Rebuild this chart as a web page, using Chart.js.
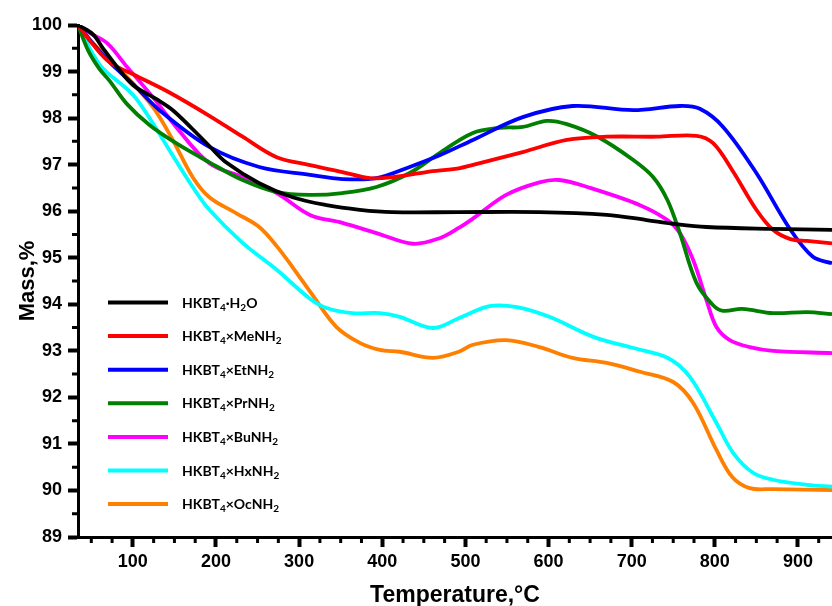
<!DOCTYPE html>
<html><head><meta charset="utf-8">
<script src="https://cdn.jsdelivr.net/npm/chart.js@4"></script>
<style>html,body{margin:0;padding:0;background:#fff;overflow:hidden}#wrap{width:832px;height:606px}</style>
</head><body><div id="wrap"><canvas id="c" width="832" height="606"></canvas></div>
<script>
// ---- data ----
const seriesLabels = ['HKBT\u2084\u00B7H\u2082O','HKBT\u2084\u00D7MeNH\u2082','HKBT\u2084\u00D7EtNH\u2082','HKBT\u2084\u00D7PrNH\u2082','HKBT\u2084\u00D7BuNH\u2082','HKBT\u2084\u00D7HxNH\u2082','HKBT\u2084\u00D7OcNH\u2082'];
const seriesColors = ['#000000','#ff0000','#0000ff','#007f00','#ff00ff','#00ffff','#ff8000'];

const tempH2O = [34,52,64,81,100,129,148,172,192,212,252,292,333,373,412,492,589,670,718,750,790,870,941];
const massH2O = [100,99.8,99.5,99.1,98.71,98.4,98.17,97.76,97.4,97.05,96.6,96.3,96.13,96.03,95.98,95.98,95.98,95.92,95.81,95.73,95.66,95.62,95.6];

const tempMe = [34,51,72,105,144,192,232,273,313,352,385,412,453,492,508,569,622,670,730,778,798,821,850,870,891,911,941];
const massMe = [100,99.6,99.2,98.9,98.55,98.05,97.6,97.16,96.99,96.84,96.71,96.73,96.84,96.92,96.99,97.27,97.53,97.6,97.6,97.62,97.46,96.88,96.03,95.6,95.4,95.36,95.31];

const tempEt = [34,52,72,101,132,192,252,313,352,393,433,469,509,569,629,702,758,782,810,850,891,918,941];
const massEt = [100,99.6,99.2,98.72,98.17,97.38,96.95,96.78,96.69,96.71,96.95,97.2,97.53,98.02,98.26,98.17,98.26,98.2,97.81,96.82,95.6,95.02,94.88];

const tempPr = [34,46,60,72,93,120,152,192,232,273,313,352,393,433,469,509,541,569,598,622,659,702,726,743,758,778,798,810,833,870,911,941];
const massPr = [100,99.46,99.05,98.8,98.3,97.85,97.46,97.05,96.67,96.41,96.35,96.39,96.52,96.82,97.25,97.68,97.79,97.81,97.94,97.87,97.6,97.1,96.73,96.24,95.53,94.46,93.98,93.86,93.9,93.81,93.83,93.79];

const tempBu = [34,48,69,93,124,152,192,232,273,313,352,393,437,469,492,509,549,589,613,650,710,743,758,774,790,802,818,842,870,941];
const massBu = [100,99.83,99.61,99.1,98.45,97.81,97.03,96.73,96.39,95.92,95.75,95.53,95.3,95.42,95.64,95.84,96.35,96.62,96.67,96.5,96.13,95.81,95.53,94.95,94.09,93.51,93.23,93.08,93.0,92.95];

const tempHx = [34,60,100,124,144,172,192,232,273,313,333,364,397,421,461,492,529,562,601,654,702,743,770,802,822,846,870,911,941];
const massHx = [100,99.15,98.5,97.89,97.31,96.52,96.03,95.32,94.74,94.12,93.92,93.81,93.81,93.73,93.49,93.7,93.96,93.94,93.73,93.3,93.06,92.85,92.44,91.45,90.81,90.38,90.23,90.12,90.08];

const tempOc = [34,52,93,124,148,172,192,224,252,273,292,316,345,373,397,421,461,492,509,549,589,629,670,710,750,774,802,821,842,870,941];
const massOc = [100,99.61,98.88,98.24,97.53,96.73,96.3,95.96,95.66,95.25,94.8,94.2,93.51,93.17,93.02,92.98,92.85,92.98,93.13,93.23,93.08,92.85,92.74,92.55,92.33,91.88,90.87,90.29,90.05,90.03,90.01];

const xTickValues = [100,200,300,400,500,600,700,800,900];
const yTickValues = [89,90,91,92,93,94,95,96,97,98,99,100];
const xMinorValues = [50,75,125,150,175,225,250,275,325,350,375,425,450,475,525,550,575,625,650,675,725,750,775,825,850,875,925];
const yMinorValues = [89.5,90.5,91.5,92.5,93.5,94.5,95.5,96.5,97.5,98.5,99.5];

const temps = [tempH2O,tempMe,tempEt,tempPr,tempBu,tempHx,tempOc];
const masses = [massH2O,massMe,massEt,massPr,massBu,massHx,massOc];

const FONT = "'Liberation Sans', Arial, sans-serif";
const LEGEND_FONT = "Lato, 'Open Sans', sans-serif";
const SUBS = {'\u2080':'0','\u2081':'1','\u2082':'2','\u2083':'3','\u2084':'4','\u2085':'5','\u2086':'6','\u2087':'7','\u2088':'8','\u2089':'9'};

const minorTicks = {
  id:'minorTicks',
  afterDraw(chart){
    const ctx = chart.ctx, xs = chart.scales.x, ys = chart.scales.y;
    ctx.save();
    ctx.strokeStyle = '#000'; ctx.lineWidth = 3;
    ctx.beginPath();
    xMinorValues.forEach(v => { const p = xs.getPixelForValue(v); ctx.moveTo(p, xs.top); ctx.lineTo(p, xs.top + 6); });
    yMinorValues.forEach(v => { const p = ys.getPixelForValue(v); ctx.moveTo(ys.right, p); ctx.lineTo(ys.right - 6, p); });
    ctx.stroke();
    ctx.restore();
  }
};

function drawRichLabel(ctx, text, x, y){
  // draws text, rendering Unicode subscript digits as smaller lowered digits
  let cx = x;
  let buf = '';
  const flush = () => {
    if (!buf) return;
    ctx.font = 'bold 14px ' + LEGEND_FONT;
    ctx.fillText(buf, cx, y);
    cx += ctx.measureText(buf).width;
    buf = '';
  };
  for (const ch of text) {
    if (SUBS[ch]) {
      flush();
      ctx.font = 'bold 10px ' + LEGEND_FONT;
      ctx.fillText(SUBS[ch], cx, y + 3);
      cx += ctx.measureText(SUBS[ch]).width;
    } else {
      buf += ch;
    }
  }
  flush();
}

const insideLegend = {
  id:'insideLegend',
  afterDatasetsDraw(chart){
    const ctx = chart.ctx, ca = chart.chartArea;
    const x0 = ca.left + 30, y0 = ca.top + 277.5, dy = 33.6;
    chart.data.datasets.forEach((ds, i) => {
      const y = y0 + i * dy;
      ctx.save();
      ctx.strokeStyle = ds.borderColor; ctx.lineWidth = 4;
      ctx.beginPath(); ctx.moveTo(x0, y); ctx.lineTo(x0 + 60, y); ctx.stroke();
      ctx.fillStyle = '#000';
      ctx.textBaseline = 'alphabetic';
      ctx.textAlign = 'left';
      drawRichLabel(ctx, ds.label, x0 + 74, y + 5);
      ctx.restore();
    });
  }
};

new Chart(document.getElementById('c'), {
  type:'line',
  data:{
    datasets: seriesLabels.map((lab, i) => ({
      label: lab,
      data: temps[i].map((t, j) => ({x: t, y: masses[i][j]})),
      borderColor: seriesColors[i],
      backgroundColor: seriesColors[i],
      borderWidth: 3.8,
      pointRadius: 0,
      fill: false,
      tension: 0.35
    }))
  },
  options:{
    responsive:false,
    animation:false,
    devicePixelRatio:1,
    layout:{padding:{top:25,left:0,right:0,bottom:0}},
    plugins:{legend:{display:false}, tooltip:{enabled:false}},
    scales:{
      x:{
        type:'linear', min:34, max:941,
        afterBuildTicks: s => { s.ticks = xTickValues.map(v => ({value:v})); },
        afterFit: s => { s.height = 69; },
        grid:{drawOnChartArea:false, drawTicks:true, tickLength:10, tickWidth:4, tickColor:'#000'},
        border:{display:true, color:'#000', width:3},
        ticks:{font:{family:FONT, size:18, weight:'bold'}, color:'#000', padding:4, maxRotation:0, autoSkip:false},
        title:{display:true, text:'Temperature,\u00B0C', color:'#000', font:{family:FONT, size:23, weight:'bold', lineHeight:1}, padding:{top:0,bottom:-1}}
      },
      y:{
        type:'linear', min:89, max:100,
        afterBuildTicks: s => { s.ticks = yTickValues.map(v => ({value:v})); },
        afterFit: s => { s.width = 78; },
        grid:{drawOnChartArea:false, drawTicks:true, tickLength:10, tickWidth:4, tickColor:'#000'},
        border:{display:true, color:'#000', width:3},
        ticks:{font:{family:FONT, size:18, weight:'bold'}, color:'#000', padding:6, autoSkip:false},
        title:{display:true, text:'Mass,%', color:'#000', font:{family:FONT, size:22, weight:'bold', lineHeight:1}, padding:{top:17,bottom:0}}
      }
    }
  },
  plugins:[minorTicks, insideLegend]
});
</script>
</body></html>
